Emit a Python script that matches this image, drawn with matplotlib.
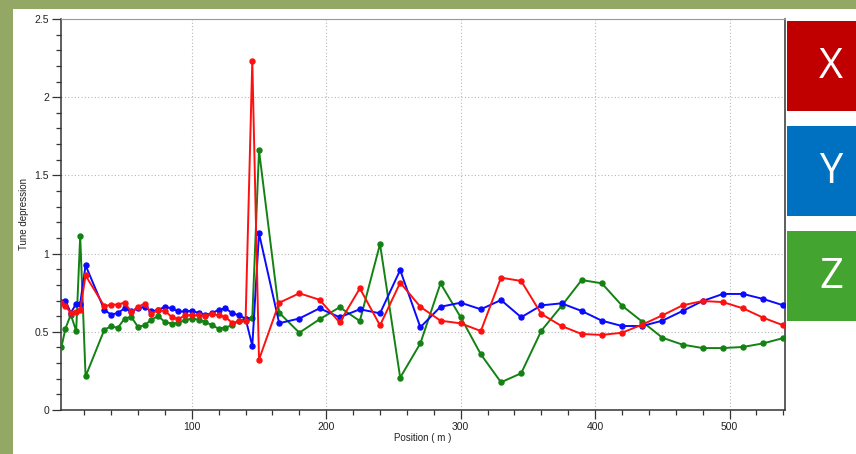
import matplotlib
matplotlib.use("Agg")
import matplotlib.pyplot as plt
from matplotlib.patches import Rectangle
from matplotlib.ticker import MultipleLocator

# positions along the line (m)
position = [3, 6, 10, 14, 17, 21,
            35, 40, 45, 50, 55, 60, 65, 70, 75, 80, 85, 90, 95, 100,
            105, 110, 115, 120, 125, 130, 135, 140, 145, 150,
            165, 180, 195, 210, 225, 240, 255, 270, 285, 300, 315, 330,
            345, 360, 375, 390, 405, 420, 435, 450, 465, 480, 495, 510,
            525, 540]

tune_x = [0.687, 0.665, 0.62, 0.628, 0.64, 0.86,
          0.663, 0.674, 0.674, 0.687, 0.627, 0.66, 0.68, 0.617, 0.638, 0.634,
          0.595, 0.58, 0.606, 0.606, 0.606, 0.60, 0.612, 0.606, 0.595, 0.557,
          0.567, 0.567, 2.233, 0.322,
          0.686, 0.746, 0.705, 0.56, 0.778, 0.541, 0.814, 0.66, 0.571, 0.554,
          0.505, 0.846, 0.825, 0.614, 0.537, 0.486, 0.48, 0.494, 0.546, 0.605,
          0.669, 0.697, 0.69, 0.65, 0.59, 0.541]

tune_y = [0.69, 0.70, 0.62, 0.68, 0.68, 0.925,
          0.64, 0.61, 0.62, 0.65, 0.63, 0.65, 0.66, 0.63, 0.64, 0.66,
          0.65, 0.63, 0.63, 0.635, 0.62, 0.605, 0.62, 0.64, 0.65, 0.62,
          0.605, 0.585, 0.41, 1.13,
          0.555, 0.585, 0.65, 0.593, 0.644, 0.618, 0.895, 0.529, 0.66, 0.686,
          0.644, 0.703, 0.593, 0.669, 0.682, 0.633, 0.571, 0.537, 0.537, 0.571,
          0.633, 0.697, 0.742, 0.742, 0.71, 0.669]

tune_z = [0.40, 0.52, 0.61, 0.505, 1.11, 0.215,
          0.514, 0.535, 0.525, 0.585, 0.595, 0.531, 0.542, 0.578, 0.60, 0.563,
          0.552, 0.557, 0.574, 0.585, 0.578, 0.563, 0.542, 0.52, 0.527, 0.542,
          0.57, 0.585, 0.59, 1.66,
          0.622, 0.494, 0.58, 0.657, 0.569, 1.061, 0.207, 0.426, 0.81, 0.593,
          0.356, 0.177, 0.235, 0.507, 0.665, 0.831, 0.81, 0.667, 0.565, 0.462,
          0.418, 0.396, 0.396, 0.403, 0.426, 0.46]

labels = ["X", "Y", "Z"]
box_colors = ["#c00000", "#0070c0", "#43a42f"]

W, H = 856, 454
fig = plt.figure(figsize=(W / 100, H / 100), dpi=100)
fig.patch.set_facecolor("#93a865")

# white panel
fig.patches.append(Rectangle((13 / W, 0), 1 - 13 / W, (H - 9) / H,
                             transform=fig.transFigure, facecolor="white",
                             edgecolor="none", zorder=-5))

ax = fig.add_axes([60.7 / W, 1 - 410 / H, (784.7 - 60.7) / W, (410 - 19) / H])
ax.set_zorder(2)
ax.set_facecolor("white")

ax.plot(position, tune_z, color="#138213", lw=1.4, marker="o", ms=3.6, zorder=3)
ax.plot(position, tune_y, color="#0a0aff", lw=1.4, marker="o", ms=3.6, zorder=4)
ax.plot(position, tune_x, color="#ff1010", lw=1.4, marker="o", ms=3.6, zorder=5)

ax.set_xlim(2.5, 541)
ax.set_ylim(0, 2.5)
ax.xaxis.set_major_locator(MultipleLocator(100))
ax.xaxis.set_minor_locator(MultipleLocator(20))
ax.yaxis.set_major_locator(MultipleLocator(0.5))
ax.yaxis.set_minor_locator(MultipleLocator(0.1))
ax.set_yticks([0, 0.5, 1, 1.5, 2, 2.5])
ax.set_yticklabels(["0", "0.5", "1", "1.5", "2", "2.5"])

ax.grid(True, which="major", color="#b8b8b8", linestyle=(0, (1, 2)), lw=0.8)
ax.tick_params(which="major", length=6.5, width=0.9, color="#333333",
               labelsize=7.5, labelcolor="#222222", pad=2)
ax.tick_params(which="minor", length=3.5, width=0.9, color="#333333")

for s in ["left", "bottom", "right"]:
    ax.spines[s].set_color("#333333")
    ax.spines[s].set_linewidth(1.1)
ax.spines["top"].set_color("#999999")
ax.spines["top"].set_linewidth(0.8)

for t in ax.get_xticklabels() + ax.get_yticklabels():
    t.set_family(["Liberation Sans", "DejaVu Sans"])

ax.set_xlabel("Position ( m )", fontsize=7, family=["Liberation Sans", "DejaVu Sans"],
              labelpad=1, color="#222222")
ax.set_ylabel("Tune depression", fontsize=7, family=["Liberation Sans", "DejaVu Sans"],
              labelpad=4, color="#222222")

# coloured labels on the right
box_tops = [21, 126, 231]
for lab, col, top in zip(labels, box_colors, box_tops):
    fig.patches.append(Rectangle((787 / W, 1 - (top + 90) / H), (W - 787) / W, 90 / H,
                                 transform=fig.transFigure, facecolor=col,
                                 edgecolor="none", zorder=1))
    fig.text(831 / W, 1 - (top + 46) / H, lab, color="white", fontsize=30,
             family=["Open Sans", "DejaVu Sans"], ha="center", va="center")

fig.savefig("out.png", dpi=100)
